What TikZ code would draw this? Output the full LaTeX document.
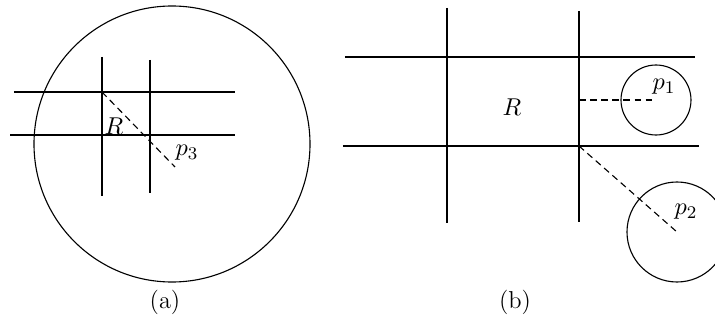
\documentclass[tikz,border=0pt]{standalone}
\usetikzlibrary{positioning}
\begin{document}
\begin{tikzpicture}[x=0.45pt,y=-0.45pt,line width=0.5pt,
    font=\fontsize{11}{13}\selectfont,
    dist/.style={dash pattern=on 3pt off 2pt},
    lbl/.style={inner sep=0pt}]
    \useasboundingbox (0,0) rectangle (715,326);
    \clip (0,0) rectangle (715,326);

    % Panel (a)
    \coordinate (ca) at (172,144);
    \draw (ca) circle[radius=138];
    \draw (14,92) -- (235,92);
    \draw (10,135) -- (235,135);
    \draw (102,57) -- (102,196);
    \draw (150,60) -- (150,193);
    \coordinate (ra) at (102,92);
    \coordinate (pa) at (175,167);
    \draw[dist] (ra) -- (pa);
    \node[lbl] (Ra) at (114,126) {$R$};
    \node[lbl] (p3) at (187,153) {$p_3$};
    \node[lbl] (capa) at (165,302) {(a)};

    % Panel (b)
    \draw (345,57) -- (695,57);
    \draw (343,146) -- (699,146);
    \draw (447,8) -- (447,223);
    \draw (579,11) -- (579,222);
    \node[lbl] (Rb) at (512,107) {$R$};
    % near point
    \coordinate (cp1) at (656,100);
    \draw (cp1) circle[radius=35];
    \draw[dist] (579,100) -- (cp1);
    \node[lbl] (p1) at (664,87) {$p_1$};
    % far point
    \coordinate (corner) at (579,146);
    \coordinate (cp2) at (677,232);
    \draw (cp2) circle[radius=50];
    \draw[dist] (corner) -- (cp2);
    \node[lbl] (p2) at (686,212) {$p_2$};
    \node[lbl] (capb) at (515,302) {(b)};
\end{tikzpicture}
\end{document}
